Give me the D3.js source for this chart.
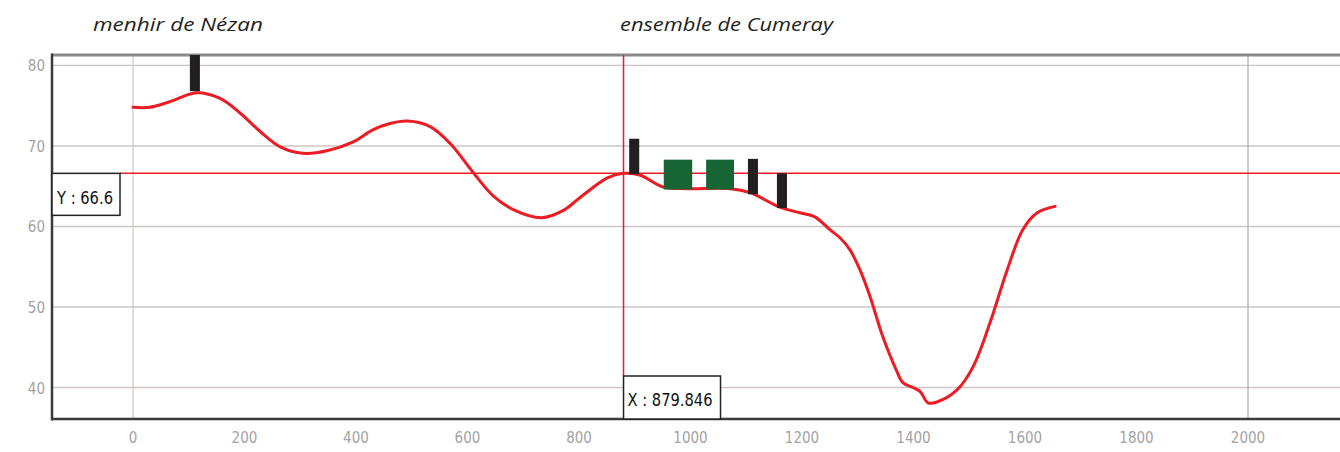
<!DOCTYPE html>
<html>
<head>
<meta charset="utf-8">
<script src="https://cdn.jsdelivr.net/npm/d3@7"></script>
<style>
  html, body { margin: 0; padding: 0; background: #fff; }
  svg { display: block; }
</style>
</head>
<body>
<svg id="chart" width="1340" height="452"></svg>
<script>
// Elevation profile (distance in m, altitude in m)
const profileDist = [0, 30, 66, 114, 156, 192, 228, 264, 305, 348, 395, 430, 461, 493, 533, 569, 608, 646, 682, 733, 772, 802, 850, 879, 909, 951, 994, 1071, 1107, 1160, 1196, 1223, 1250, 1268, 1286, 1304, 1322, 1345, 1369, 1381, 1399, 1412, 1426, 1442, 1478, 1507, 1537, 1568, 1596, 1622, 1654];
const profileAlt  = [74.8, 74.8, 75.5, 76.6, 75.9, 74.1, 71.8, 69.9, 69.1, 69.4, 70.5, 72.0, 72.8, 73.1, 72.4, 70.3, 66.9, 63.8, 62.1, 61.1, 62.0, 63.6, 66.0, 66.6, 66.4, 64.9, 64.7, 64.7, 64.2, 62.4, 61.7, 61.2, 59.6, 58.6, 57.1, 54.6, 51.3, 46.3, 42.2, 40.6, 40.0, 39.5, 38.1, 38.2, 39.7, 42.6, 48.0, 54.6, 59.6, 61.7, 62.5];

// Standing stones (black markers)
const stoneDist = [111, 899, 1112, 1164];
const stoneLow  = [76.8, 66.5, 64.0, 62.3];
const stoneHigh = [81.3, 70.9, 68.4, 66.6];

// Monuments (green blocks)
const blockStart = [952, 1028];
const blockEnd   = [1003, 1078];
const blockLow   = [64.6, 64.6];
const blockHigh  = [68.3, 68.3];

// Axis ticks
const xTicks = [0, 200, 400, 600, 800, 1000, 1200, 1400, 1600, 1800, 2000, 2200];
const yTicks = [40, 50, 60, 70, 80];
const xGrid = [0, 2000];

// Cursor readout
const cursorX = 879.846;
const cursorY = 66.6;

// Site names
const siteNames = ["menhir de Nézan", "ensemble de Cumeray"];

(function draw() {
  const svg = d3.select("#chart");
  const pLeft = 52, pRight = 1340, pTop = 55, pBottom = 419;

  const x = d3.scaleLinear().domain([-145.3, 2165]).range([pLeft, pRight]);
  const y = d3.scaleLinear().domain([36.09, 81.3]).range([pBottom, pTop]);

  const gridColor = "#cdc6c4";
  const red = "#ec1c24";

  // Horizontal grid lines
  svg.append("g").selectAll("line").data(yTicks).join("line")
    .attr("x1", pLeft).attr("x2", pRight)
    .attr("y1", d => y(d)).attr("y2", d => y(d))
    .attr("stroke", gridColor).attr("stroke-width", 1.3);

  // Vertical grid lines
  svg.append("g").selectAll("line").data(xGrid).join("line")
    .attr("x1", d => x(d)).attr("x2", d => x(d))
    .attr("y1", pTop).attr("y2", pBottom)
    .attr("stroke", d => d === 0 ? gridColor : "#aaa")
    .attr("stroke-width", 1.2);

  // Axis tick labels
  const tickFont = "'DejaVu Sans Condensed', 'Liberation Sans Narrow', sans-serif";
  svg.append("g").selectAll("text").data(yTicks).join("text")
    .attr("x", 45).attr("y", d => y(d) + 6)
    .attr("text-anchor", "end")
    .attr("font-family", tickFont).attr("font-size", 15)
    .attr("font-weight", 300)
    .attr("fill", "#a3a3a3")
    .text(d => d);

  svg.append("g").selectAll("text").data(xTicks).join("text")
    .attr("x", d => x(d)).attr("y", 443)
    .attr("text-anchor", "middle")
    .attr("font-family", tickFont).attr("font-size", 15)
    .attr("font-weight", 300)
    .attr("fill", "#a3a3a3")
    .text(d => d);

  // Frame
  svg.append("line").attr("x1", pLeft).attr("x2", pRight).attr("y1", pTop).attr("y2", pTop)
    .attr("stroke", "#8a8a8a").attr("stroke-width", 3);
  svg.append("line").attr("x1", pLeft).attr("x2", pLeft).attr("y1", pTop - 1.5).attr("y2", pBottom + 1.5)
    .attr("stroke", "#3a3a3a").attr("stroke-width", 2.5);
  svg.append("line").attr("x1", pLeft).attr("x2", pRight).attr("y1", pBottom).attr("y2", pBottom)
    .attr("stroke", "#3a3a3a").attr("stroke-width", 2.5);

  // Cursor cross-hair
  const yBoxRight = 120, xBoxTop = 376;
  svg.append("line")
    .attr("x1", yBoxRight).attr("x2", pRight)
    .attr("y1", y(cursorY)).attr("y2", y(cursorY))
    .attr("stroke", red).attr("stroke-width", 1.5);
  svg.append("line")
    .attr("x1", x(cursorX)).attr("x2", x(cursorX))
    .attr("y1", pTop).attr("y2", xBoxTop)
    .attr("stroke", red).attr("stroke-width", 1.5);

  // Profile line
  const line = d3.line()
    .x((d, i) => x(profileDist[i]))
    .y(d => y(d))
    .curve(d3.curveCatmullRom.alpha(0.5));
  svg.append("path")
    .datum(profileAlt)
    .attr("d", line)
    .attr("fill", "none")
    .attr("stroke", red)
    .attr("stroke-width", 3)
    .attr("stroke-linecap", "round")
    .attr("stroke-linejoin", "round");

  // Standing stones
  const halfW = 9;
  svg.append("g").selectAll("rect").data(stoneDist).join("rect")
    .attr("x", d => x(d - halfW))
    .attr("width", d => x(d + halfW) - x(d - halfW))
    .attr("y", (d, i) => y(stoneHigh[i]))
    .attr("height", (d, i) => y(stoneLow[i]) - y(stoneHigh[i]))
    .attr("fill", "#231f20");

  // Monuments
  svg.append("g").selectAll("rect").data(blockStart).join("rect")
    .attr("x", d => x(d))
    .attr("width", (d, i) => x(blockEnd[i]) - x(d))
    .attr("y", (d, i) => y(blockHigh[i]))
    .attr("height", (d, i) => y(blockLow[i]) - y(blockHigh[i]))
    .attr("fill", "#176534");

  // Cursor readout boxes
  const boxFont = "'DejaVu Sans Condensed', 'Liberation Sans Narrow', sans-serif";
  const yBox = svg.append("g");
  yBox.append("rect")
    .attr("x", pLeft).attr("y", y(cursorY))
    .attr("width", yBoxRight - pLeft).attr("height", 42)
    .attr("fill", "#fff").attr("stroke", "#222").attr("stroke-width", 1.5);
  yBox.append("text")
    .attr("x", 57).attr("y", y(cursorY) + 31)
    .attr("font-family", boxFont).attr("font-size", 17)
    .attr("textLength", 56).attr("lengthAdjust", "spacingAndGlyphs")
    .attr("fill", "#111")
    .text("Y : " + cursorY.toFixed(1));

  const xBox = svg.append("g");
  xBox.append("rect")
    .attr("x", x(cursorX)).attr("y", xBoxTop)
    .attr("width", 97).attr("height", pBottom - xBoxTop)
    .attr("fill", "#fff").attr("stroke", "#222").attr("stroke-width", 1.5);
  xBox.append("text")
    .attr("x", x(cursorX) + 4).attr("y", xBoxTop + 30)
    .attr("font-family", boxFont).attr("font-size", 17)
    .attr("textLength", 85).attr("lengthAdjust", "spacingAndGlyphs")
    .attr("fill", "#111")
    .text("X : " + cursorX.toFixed(3));

  // Site names
  const namePos = [93, 620];
  const nameLen = [170, 213];
  svg.append("g").selectAll("text").data(siteNames).join("text")
    .attr("x", (d, i) => namePos[i]).attr("y", 31)
    .attr("font-family", "'Open Sans', 'Noto Sans', sans-serif")
    .attr("font-style", "italic")
    .attr("font-size", 18)
    .attr("textLength", (d, i) => nameLen[i])
    .attr("lengthAdjust", "spacingAndGlyphs")
    .attr("fill", "#231f20")
    .text(d => d);
})();
</script>
</body>
</html>
